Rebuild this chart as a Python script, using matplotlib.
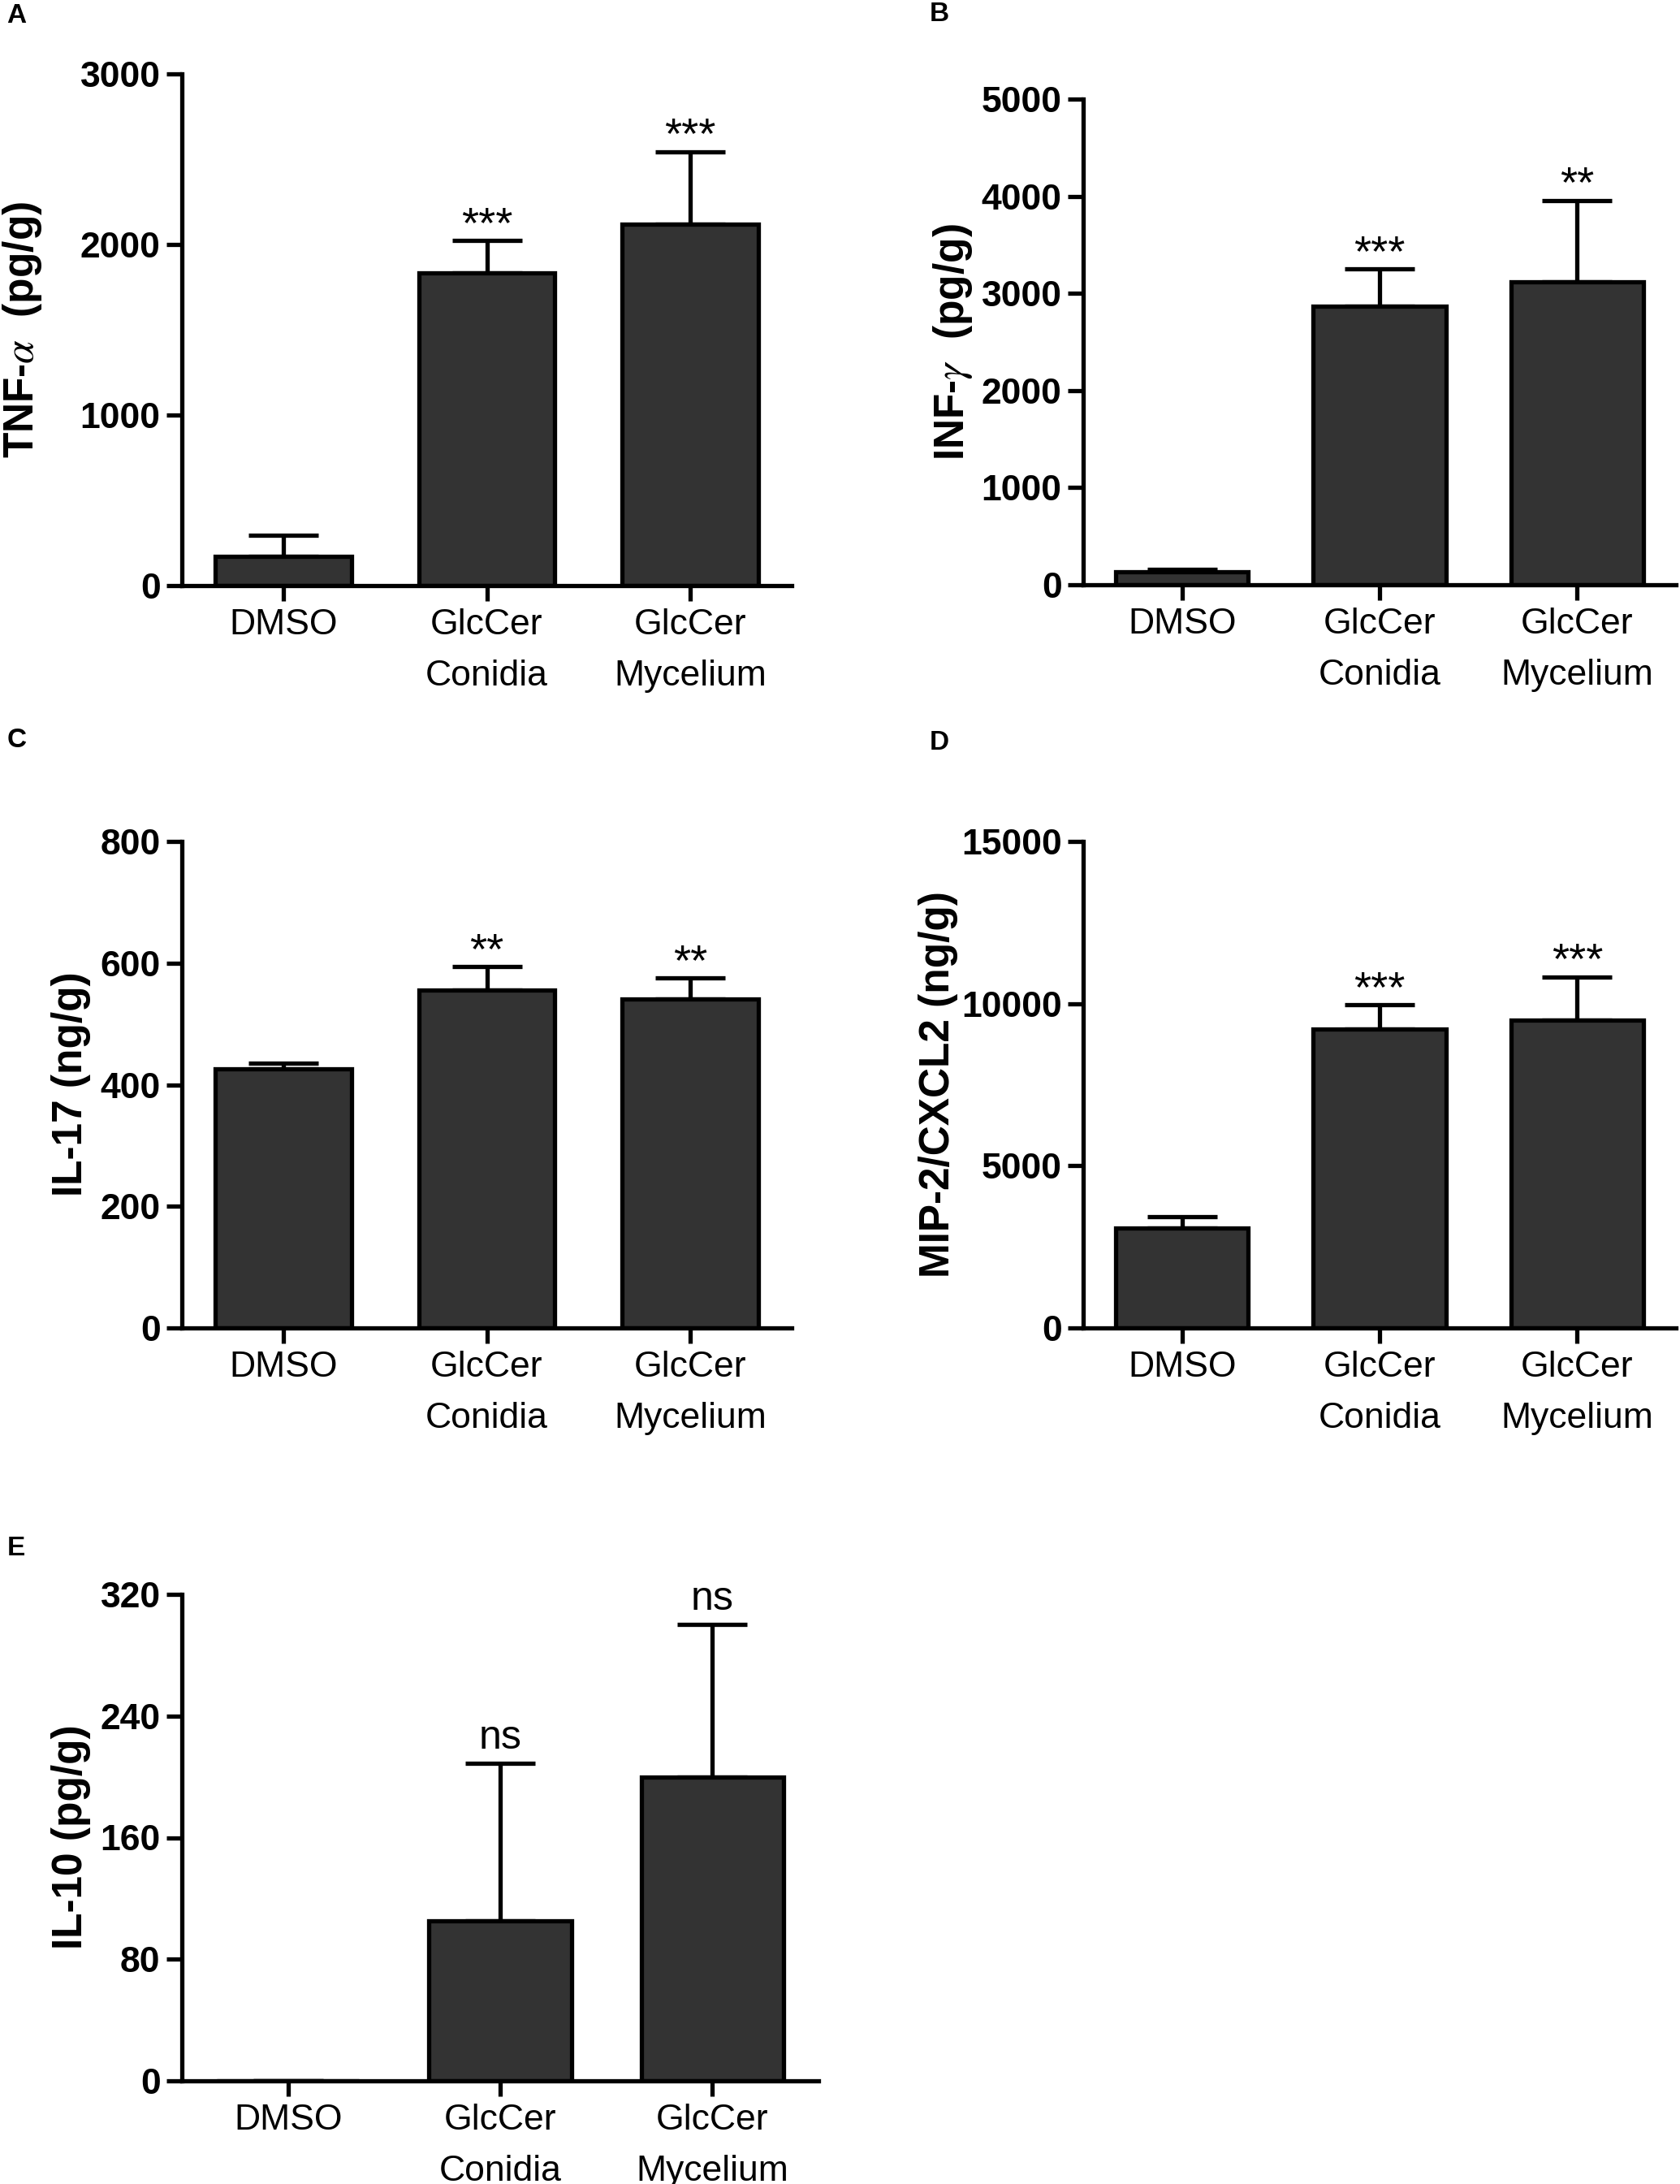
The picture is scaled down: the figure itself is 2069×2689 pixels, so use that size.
import numpy as np
import matplotlib
matplotlib.use("Agg")
import matplotlib.pyplot as plt

# ── DATA ───────────────────────────────────────────────────────────────────────
GROUPS = ["DMSO", "GlcCer\nConidia", "GlcCer\nMycelium"]

TNF_MEAN = [170, 1835, 2120]
TNF_SEM  = [125, 190, 425]
TNF_SIG  = ["", "***", "***"]

INF_MEAN = [131, 2864, 3122]
INF_SEM  = [24, 390, 836]
INF_SIG  = ["", "***", "**"]

IL17_MEAN = [426, 556, 541]
IL17_SEM  = [9, 38, 34]
IL17_SIG  = ["", "**", "**"]

MIP2_MEAN = [3092, 9203, 9491]
MIP2_SEM  = [330, 762, 1338]
MIP2_SIG  = ["", "***", "***"]

IL10_MEAN = [0, 105, 200]
IL10_SEM  = [0, 104, 100]
IL10_SIG  = ["", "ns", "ns"]

# ── STYLE ──────────────────────────────────────────────────────────────────────
W, H, DPI = 2069, 2689, 100
FONT      = "Liberation Sans"
BAR_FILL  = "#333333"
LW        = 3.8            # axis / bar edge / error bar width (pt)

plt.rcParams["font.family"] = [FONT, "DejaVu Sans"]
plt.rcParams["mathtext.fontset"] = "stix"


def px_rect(left, top, right, bottom):
    """figure rect from pixel box (y measured from top)"""
    return [left / W, 1 - bottom / H, (right - left) / W, (bottom - top) / H]


def panel(fig, rect, mean, sem, sig, yticks, ylabel, label_xy, letter, letter_xy):
    ax = fig.add_axes(rect)
    x = np.arange(len(GROUPS))

    ax.errorbar(x, mean, yerr=[np.zeros(len(sem)), sem], fmt="none",
                ecolor="black", elinewidth=LW, capsize=31, capthick=LW, zorder=1)
    ax.bar(x, mean, width=0.67, color=BAR_FILL, edgecolor="black",
           linewidth=LW, zorder=2)

    for xi, m, s, t in zip(x, mean, sem, sig):
        if not t:
            continue
        star = "*" in t
        ax.annotate(t, (xi, m + s), xytext=(0, 3 if star else 13),
                    textcoords="offset points", ha="center", va="baseline",
                    fontsize=39 if star else 36, annotation_clip=False)

    ax.set_xlim(-0.5, 2.5)
    ax.set_ylim(yticks[0], yticks[-1])
    ax.set_yticks(yticks)
    ax.set_yticklabels([str(v) for v in yticks], fontsize=32, fontweight="bold")
    ax.set_xticks(x)
    ax.set_xticklabels(GROUPS, fontsize=32, linespacing=1.7,
                       multialignment="center")

    for sp in ["top", "right"]:
        ax.spines[sp].set_visible(False)
    for sp in ["left", "bottom"]:
        ax.spines[sp].set_linewidth(LW)
        ax.spines[sp].set_capstyle("projecting")
    ax.tick_params(axis="both", direction="out", length=14, width=LW)
    ax.tick_params(axis="y", pad=5)
    ax.tick_params(axis="x", pad=6)
    ax.set_facecolor("white")

    fig.text(label_xy[0] / W, 1 - label_xy[1] / H, ylabel, rotation=90,
             ha="center", va="center", fontsize=37, fontweight="bold")
    fig.text(letter_xy[0] / W, 1 - letter_xy[1] / H, letter, ha="left", va="top",
             fontsize=24, fontweight="bold")
    return ax


fig = plt.figure(figsize=(W / DPI, H / DPI), dpi=DPI, facecolor="white")

panel(fig, px_rect(224, 91, 975, 721), TNF_MEAN, TNF_SEM, TNF_SIG,
      [0, 1000, 2000, 3000], r"TNF-$\alpha$  (pg/g)", (28, 406), "A", (8, 4))
panel(fig, px_rect(1334, 122, 2064, 720), INF_MEAN, INF_SEM, INF_SIG,
      [0, 1000, 2000, 3000, 4000, 5000], r"INF-$\gamma$  (pg/g)", (1174, 421), "B", (1145, 2))
panel(fig, px_rect(224, 1036, 975, 1635), IL17_MEAN, IL17_SEM, IL17_SIG,
      [0, 200, 400, 600, 800], "IL-17 (ng/g)", (87, 1335), "C", (9, 896))
panel(fig, px_rect(1334, 1036, 2064, 1635), MIP2_MEAN, MIP2_SEM, MIP2_SIG,
      [0, 5000, 10000, 15000], "MIP-2/CXCL2 (ng/g)", (1156, 1335), "D", (1145, 899))
panel(fig, px_rect(224, 1963, 1008, 2562), IL10_MEAN, IL10_SEM, IL10_SIG,
      [0, 80, 160, 240, 320], "IL-10 (pg/g)", (87, 2262), "E", (9, 1891))

fig.savefig("out.png", dpi=DPI, facecolor="white")
